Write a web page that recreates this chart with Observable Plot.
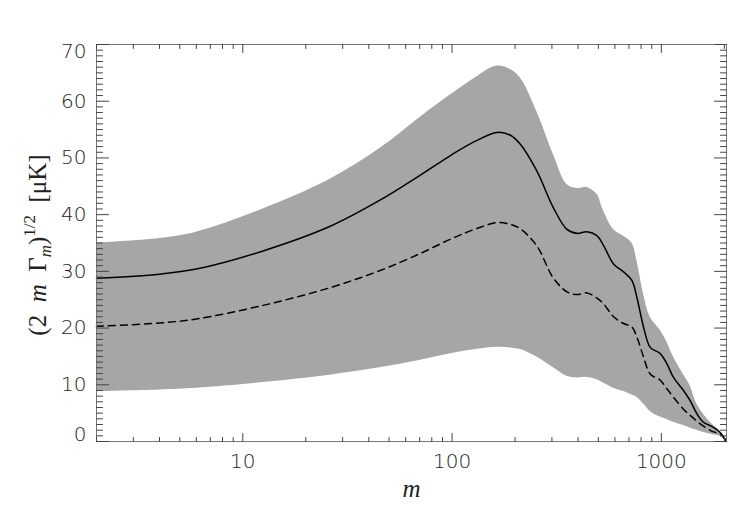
<!DOCTYPE html>
<html>
<head>
<meta charset="utf-8">
<script src="https://cdn.jsdelivr.net/npm/d3@7"></script>
<script src="https://cdn.jsdelivr.net/npm/@observablehq/plot@0.6"></script>
<style>
  html, body { margin: 0; padding: 0; background: #fff; }
  #chart svg { display: block; }
</style>
</head>
<body>
<div id="chart"></div>
<script>
// multipole m (x positions shared by all series)
const mValues = [2,4,6,12.5,26,45,70,100,130,164,190,212,254,305,354,395,441,492,529,591,660,723,764,822,885,988,1063,1143,1276,1373,1478,1590,1775,1910,2048];
// solid curve
const solidValues = [28.8,29.5,30.4,33.6,37.9,42.5,46.9,50.6,53.0,54.5,54.0,52.4,47.7,41.2,37.4,36.7,37.0,36.3,34.6,31.3,29.9,28.4,25.4,20.2,16.6,15.5,13.7,11.3,9.0,7.2,4.9,3.4,2.5,1.6,0];
// dashed curve
const dashedValues = [20.3,20.9,21.6,24.0,27.1,30.1,33.1,35.8,37.5,38.6,38.3,37.5,34.5,28.8,26.4,25.9,26.2,25.3,24.3,22.0,20.8,20.2,18.4,14.9,11.9,10.8,9.3,7.8,5.7,4.6,3.6,2.7,1.7,1.4,0];
// grey band: upper and lower edges
const upperValues = [35.0,35.8,36.9,41.0,46.2,51.6,57.1,61.3,64.2,66.2,65.6,64.1,58.2,50.6,45.3,44.6,44.8,43.6,40.7,37.4,36.2,35.0,31.9,26.0,21.9,19.6,17.5,14.9,11.8,9.8,6.6,4.8,2.8,1.8,0.2];
const lowerValues = [8.8,9.1,9.4,10.4,11.7,13.0,14.3,15.5,16.2,16.6,16.5,16.2,14.9,13.0,11.5,11.2,11.3,10.9,10.3,9.4,8.8,8.2,7.8,6.6,5.3,4.3,3.9,3.4,2.8,2.4,2.0,1.6,1.2,0.9,0.1];

// ticks
const xTickLabels = [10, 100, 1000];
const xMinorTicks = [2,3,4,5,6,7,8,9,20,30,40,50,60,70,80,90,200,300,400,500,600,700,800,900,2000];
const yTickLabels = [0, 10, 20, 30, 40, 50, 60, 70];
const yMinorTicks = [1,2,3,4,5,6,7,8,9,11,12,13,14,15,16,17,18,19,21,22,23,24,25,26,27,28,29,31,32,33,34,35,36,37,38,39,41,42,43,44,45,46,47,48,49,51,52,53,54,55,56,57,58,59,61,62,63,64,65,66,67,68,69];

const rows = mValues.map((m, i) => ({
  m, solid: solidValues[i], dashed: dashedValues[i], upper: upperValues[i], lower: lowerValues[i]
}));

const tickShape = { draw(ctx, l) { ctx.moveTo(0, 0); ctx.lineTo(0, -l); } };
const tickColor = "#444";
function xTicks(values, len) {
  return [
    Plot.vector(values, {x: d => d, frameAnchor: "bottom", length: len, rotate: 0, anchor: "start", shape: tickShape, stroke: tickColor, strokeWidth: 1}),
    Plot.vector(values, {x: d => d, frameAnchor: "top", length: len, rotate: 180, anchor: "start", shape: tickShape, stroke: tickColor, strokeWidth: 1})
  ];
}
function yTicks(values, len) {
  return [
    Plot.vector(values, {y: d => d, frameAnchor: "left", length: len, rotate: 90, anchor: "start", shape: tickShape, stroke: tickColor, strokeWidth: 1}),
    Plot.vector(values, {y: d => d, frameAnchor: "right", length: len, rotate: -90, anchor: "start", shape: tickShape, stroke: tickColor, strokeWidth: 1})
  ];
}

const labelFont = {fontFamily: "'DejaVu Sans', sans-serif", fontSize: 20, fontWeight: 300, fill: "#222"};
const curve = "catmull-rom";

const chart = Plot.plot({
  width: 741,
  height: 529,
  marginTop: 44,
  marginRight: 15,
  marginBottom: 88,
  marginLeft: 96,
  x: {type: "log", domain: [2, 2048], axis: null},
  y: {domain: [0, 70], axis: null},
  marks: [
    Plot.areaY(rows, {x: "m", y1: "lower", y2: "upper", fill: "#a6a6a6", curve}),
    Plot.line(rows, {x: "m", y: "dashed", stroke: "#000", strokeWidth: 1.5, strokeDasharray: "7,5", curve}),
    Plot.line(rows, {x: "m", y: "solid", stroke: "#000", strokeWidth: 1.5, curve}),
    Plot.frame({stroke: "#777", strokeWidth: 1}),
    ...xTicks(xTickLabels, 8),
    ...xTicks(xMinorTicks, 4),
    ...yTicks(yTickLabels, 12),
    ...yTicks(yMinorTicks, 6),
    Plot.text(xTickLabels, {x: d => d, text: d => String(d), frameAnchor: "bottom", dy: 26, ...labelFont}),
    Plot.text(yTickLabels.filter(v => v > 0 && v < 70), {y: d => d, text: d => String(d), frameAnchor: "left", dx: -10, textAnchor: "end", ...labelFont}),
    Plot.text(yTickLabels.filter(v => v === 70), {y: d => d, text: d => String(d), frameAnchor: "left", dx: -10, dy: 7, textAnchor: "end", ...labelFont}),
    Plot.text(yTickLabels.filter(v => v === 0), {y: d => d, text: d => String(d), frameAnchor: "left", dx: -10, dy: -7, textAnchor: "end", ...labelFont}),
    Plot.text(["m"], {text: d => d, frameAnchor: "bottom", dy: 55, fontFamily: "'Liberation Serif', serif", fontStyle: "italic", fontSize: 25, fill: "#222"})
  ]
});
document.getElementById("chart").appendChild(chart);

// y axis title with italic m, subscript and superscript
const svg = d3.select(chart);
const t = svg.append("text")
  .attr("transform", "translate(46,245) rotate(-90)")
  .attr("text-anchor", "middle")
  .attr("font-family", "'Liberation Serif', serif")
  .attr("font-size", 25)
  .attr("fill", "#222")
  .attr("xml:space", "preserve")
  .style("white-space", "pre");
t.append("tspan").text("(2  ");
t.append("tspan").attr("font-style", "italic").text("m");
t.append("tspan").text("  Γ");
t.append("tspan").attr("font-style", "italic").attr("font-size", 17).attr("dy", 5).text("m");
t.append("tspan").attr("dy", -5).text(")");
t.append("tspan").attr("font-size", 17).attr("dy", -11).text("1/2");
t.append("tspan").attr("dy", 11).text("  [μK]");
</script>
</body>
</html>
